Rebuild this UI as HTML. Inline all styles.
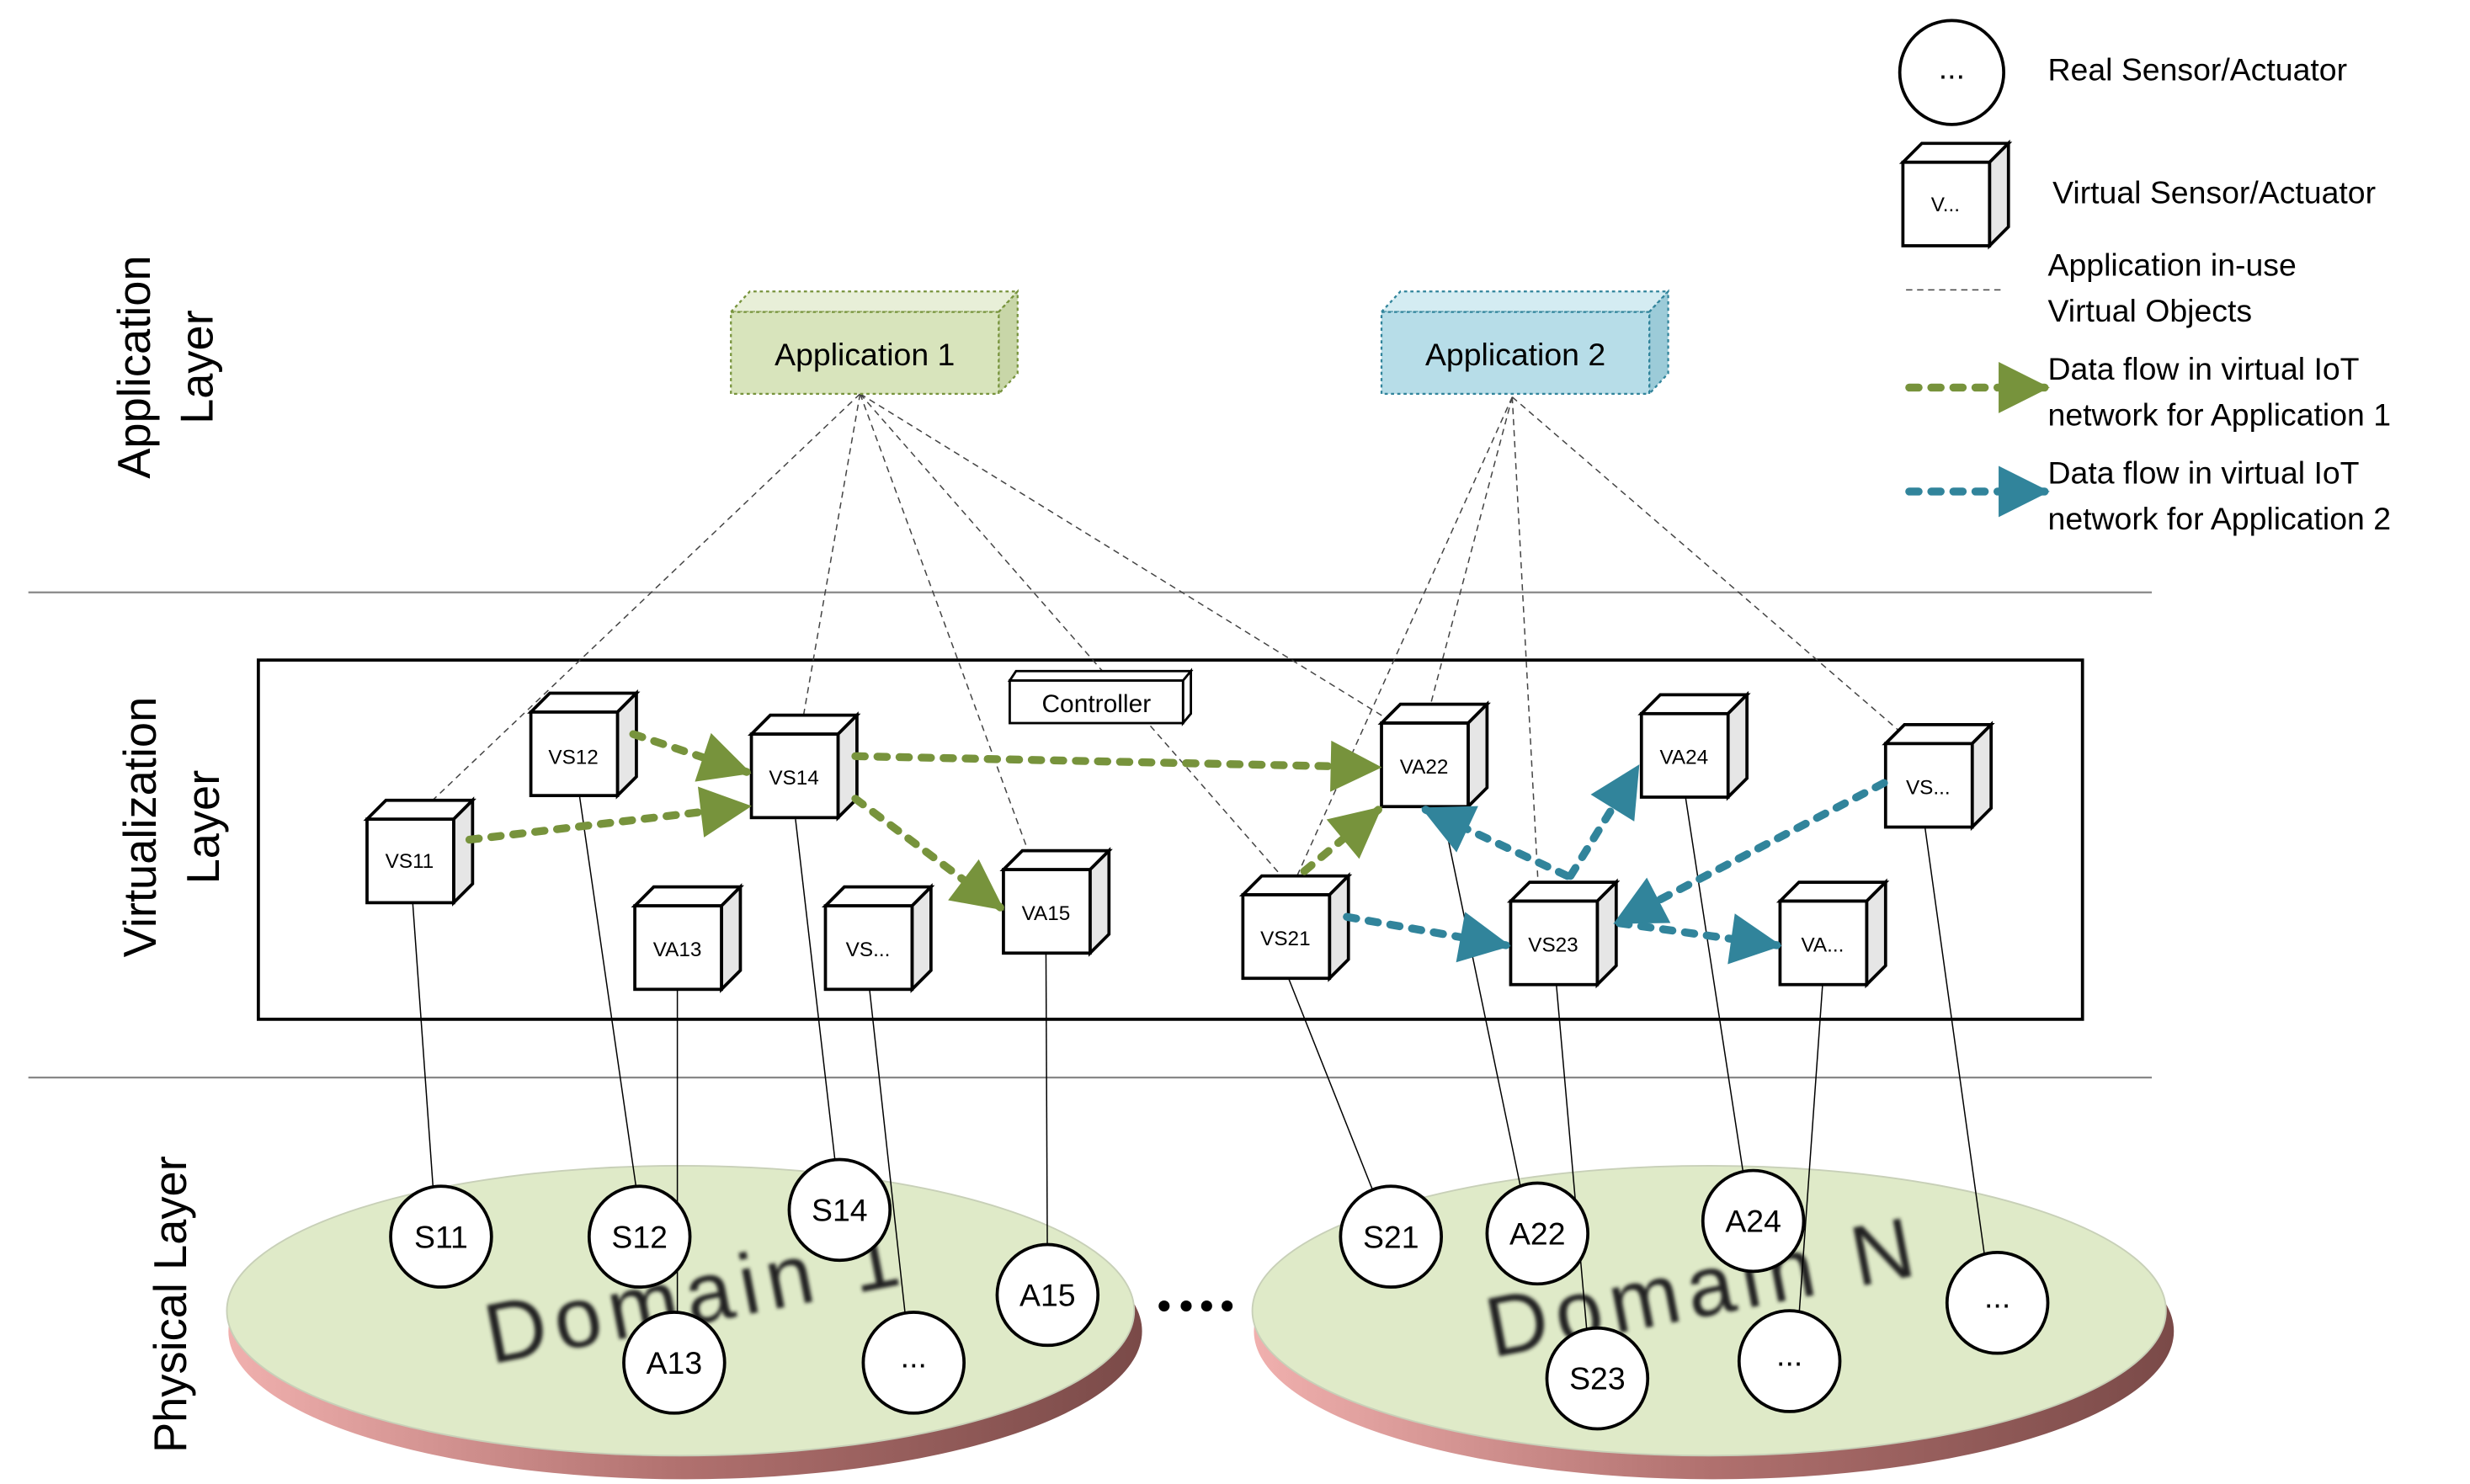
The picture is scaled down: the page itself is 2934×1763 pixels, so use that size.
<!DOCTYPE html>
<html><head><meta charset="utf-8"><style>
html,body{margin:0;padding:0;background:#fff;}
svg{display:block;}
text{font-family:"Liberation Sans",sans-serif;}
</style></head><body>
<svg width="2934" height="1763" viewBox="0 0 1568 942" preserveAspectRatio="none" xmlns="http://www.w3.org/2000/svg">
<defs>
<marker id="mg" viewBox="0 0 10 10" refX="9" refY="5" markerWidth="7" markerHeight="6.5" orient="auto" markerUnits="strokeWidth"><path d="M0,0 L10,5 L0,10 z" fill="#77933c"/></marker>
<marker id="mb" viewBox="0 0 10 10" refX="9" refY="5" markerWidth="7" markerHeight="6.5" orient="auto" markerUnits="strokeWidth"><path d="M0,0 L10,5 L0,10 z" fill="#31849b"/></marker>
<linearGradient id="rim" x1="0" x2="1" y1="0" y2="0"><stop offset="0" stop-color="#f0b0ae"/><stop offset="0.5" stop-color="#b0706e"/><stop offset="1" stop-color="#7a4a48"/></linearGradient>
<filter id="bl"><feGaussianBlur stdDeviation="1.2"/></filter>
</defs>

<line x1="18" y1="376" x2="1366" y2="376" stroke="#888" stroke-width="1.2"/>
<line x1="18" y1="684" x2="1366" y2="684" stroke="#888" stroke-width="1.2"/>
<rect x="164" y="419" width="1158" height="228" fill="none" stroke="#000" stroke-width="2"/>

<text transform="translate(95,233) rotate(-90)" font-size="29" text-anchor="middle">Application</text>
<text transform="translate(135,233) rotate(-90)" font-size="29" text-anchor="middle">Layer</text>
<text transform="translate(99,525) rotate(-90)" font-size="29" text-anchor="middle">Virtualization</text>
<text transform="translate(139,525) rotate(-90)" font-size="29" text-anchor="middle">Layer</text>
<text transform="translate(118,828) rotate(-90)" font-size="29" text-anchor="middle">Physical Layer</text>

<ellipse cx="435" cy="845" rx="290" ry="94" fill="url(#rim)"/>
<ellipse cx="432" cy="832" rx="288" ry="92" fill="#dfeac8" stroke="#c8d0b8" stroke-width="1"/>
<text transform="translate(445,840) rotate(-11)" font-size="54" letter-spacing="5" text-anchor="middle" fill="#222" filter="url(#bl)">Domain 1</text>
<ellipse cx="1088" cy="845" rx="292" ry="94" fill="url(#rim)"/>
<ellipse cx="1085" cy="832" rx="290" ry="92" fill="#dfeac8" stroke="#c8d0b8" stroke-width="1"/>
<text transform="translate(1085,835) rotate(-11)" font-size="54" letter-spacing="5" text-anchor="middle" fill="#222" filter="url(#bl)">Domain N</text>
<g fill="#000"><circle cx="739" cy="829" r="3.5"/><circle cx="753" cy="829" r="3.5"/><circle cx="766" cy="829" r="3.5"/><circle cx="779" cy="829" r="3.5"/></g>

<g stroke="#444" stroke-width="0.8" stroke-dasharray="4 3" fill="none">
<line x1="546" y1="250" x2="262" y2="520"/>
<line x1="546" y1="250" x2="508" y2="466"/>
<line x1="546" y1="250" x2="657" y2="552"/>
<line x1="546" y1="250" x2="824" y2="568"/>
<line x1="546" y1="250" x2="885" y2="459"/>
<line x1="960" y1="252" x2="818" y2="568"/>
<line x1="960" y1="252" x2="905" y2="459"/>
<line x1="960" y1="252" x2="977" y2="572"/>
<line x1="960" y1="252" x2="1215" y2="472"/>
<line x1="1210" y1="184" x2="1272" y2="184"/>
</g>

<g stroke="#000" stroke-width="0.8">
<line x1="262" y1="573" x2="275" y2="755"/>
<line x1="368" y1="506" x2="404" y2="755"/>
<line x1="505" y1="520" x2="530" y2="736"/>
<line x1="430" y1="628" x2="430" y2="865"/>
<line x1="552" y1="628" x2="578" y2="865"/>
<line x1="664" y1="605" x2="665" y2="822"/>
<line x1="818" y1="621" x2="872" y2="757"/>
<line x1="915" y1="512" x2="966" y2="757"/>
<line x1="988" y1="625" x2="1010" y2="875"/>
<line x1="1070" y1="506" x2="1107" y2="747"/>
<line x1="1157" y1="625" x2="1140" y2="864"/>
<line x1="1222" y1="525" x2="1264" y2="827"/>
</g>

<g fill="#fff" stroke="#000" stroke-width="2">
<circle cx="280" cy="785" r="32"/><circle cx="406" cy="785" r="32"/><circle cx="533" cy="768" r="32"/>
<circle cx="428" cy="865" r="32"/><circle cx="580" cy="865" r="32"/><circle cx="665" cy="822" r="32"/>
<circle cx="883" cy="785" r="32"/><circle cx="976" cy="783" r="32"/><circle cx="1113" cy="775" r="32"/>
<circle cx="1014" cy="875" r="32"/><circle cx="1136" cy="864" r="32"/><circle cx="1268" cy="827" r="32"/>
<circle cx="1239" cy="46" r="33"/>
</g>
<g font-size="20" text-anchor="middle">
<text x="280" y="792">S11</text><text x="406" y="792">S12</text><text x="533" y="775">S14</text>
<text x="428" y="872">A13</text><text x="580" y="868">...</text><text x="665" y="829">A15</text>
<text x="883" y="792">S21</text><text x="976" y="790">A22</text><text x="1113" y="782">A24</text>
<text x="1014" y="882">S23</text><text x="1136" y="867">...</text><text x="1268" y="830">...</text>
<text x="1239" y="50">...</text>
</g>

<g stroke-width="1.2" stroke-dasharray="2 2">
<path d="M464,198 L476,185 L646,185 L634,198 z" fill="#e8efd8" stroke="#77933c"/>
<path d="M634,198 L646,185 L646,237 L634,250 z" fill="#c8d6a8" stroke="#77933c"/>
<rect x="464" y="198" width="170" height="52" fill="#d8e4bc" stroke="#77933c"/>
<path d="M877,198 L889,185 L1059,185 L1047,198 z" fill="#d4ecf2" stroke="#31849b"/>
<path d="M1047,198 L1059,185 L1059,237 L1047,250 z" fill="#9ccbd8" stroke="#31849b"/>
<rect x="877" y="198" width="170" height="52" fill="#b7dde8" stroke="#31849b"/>
</g>
<text x="549" y="232" font-size="20" text-anchor="middle">Application 1</text>
<text x="962" y="232" font-size="20" text-anchor="middle">Application 2</text>

<path d="M641,432 L645,426 L756,426 L751,432 z M751,432 L756,426 L756,453 L751,459 z" fill="#fff" stroke="#000" stroke-width="1.5"/>
<rect x="641" y="432" width="110" height="27" fill="#fff" stroke="#000" stroke-width="1.5"/>
<text x="696" y="452" font-size="16" text-anchor="middle">Controller</text>

<g stroke="#000" stroke-width="2">
<g transform="translate(233,520)"><path d="M0,0 L12,-12 L67,-12 L55,0 z" fill="#fff"/><path d="M55,0 L67,-12 L67,41 L55,53 z" fill="#e6e6e6"/><rect width="55" height="53" fill="#fff"/></g>
<g transform="translate(337,452)"><path d="M0,0 L12,-12 L67,-12 L55,0 z" fill="#fff"/><path d="M55,0 L67,-12 L67,41 L55,53 z" fill="#e6e6e6"/><rect width="55" height="53" fill="#fff"/></g>
<g transform="translate(477,466)"><path d="M0,0 L12,-12 L67,-12 L55,0 z" fill="#fff"/><path d="M55,0 L67,-12 L67,41 L55,53 z" fill="#e6e6e6"/><rect width="55" height="53" fill="#fff"/></g>
<g transform="translate(403,575)"><path d="M0,0 L12,-12 L67,-12 L55,0 z" fill="#fff"/><path d="M55,0 L67,-12 L67,41 L55,53 z" fill="#e6e6e6"/><rect width="55" height="53" fill="#fff"/></g>
<g transform="translate(524,575)"><path d="M0,0 L12,-12 L67,-12 L55,0 z" fill="#fff"/><path d="M55,0 L67,-12 L67,41 L55,53 z" fill="#e6e6e6"/><rect width="55" height="53" fill="#fff"/></g>
<g transform="translate(637,552)"><path d="M0,0 L12,-12 L67,-12 L55,0 z" fill="#fff"/><path d="M55,0 L67,-12 L67,41 L55,53 z" fill="#e6e6e6"/><rect width="55" height="53" fill="#fff"/></g>
<g transform="translate(789,568)"><path d="M0,0 L12,-12 L67,-12 L55,0 z" fill="#fff"/><path d="M55,0 L67,-12 L67,41 L55,53 z" fill="#e6e6e6"/><rect width="55" height="53" fill="#fff"/></g>
<g transform="translate(877,459)"><path d="M0,0 L12,-12 L67,-12 L55,0 z" fill="#fff"/><path d="M55,0 L67,-12 L67,41 L55,53 z" fill="#e6e6e6"/><rect width="55" height="53" fill="#fff"/></g>
<g transform="translate(959,572)"><path d="M0,0 L12,-12 L67,-12 L55,0 z" fill="#fff"/><path d="M55,0 L67,-12 L67,41 L55,53 z" fill="#e6e6e6"/><rect width="55" height="53" fill="#fff"/></g>
<g transform="translate(1042,453)"><path d="M0,0 L12,-12 L67,-12 L55,0 z" fill="#fff"/><path d="M55,0 L67,-12 L67,41 L55,53 z" fill="#e6e6e6"/><rect width="55" height="53" fill="#fff"/></g>
<g transform="translate(1130,572)"><path d="M0,0 L12,-12 L67,-12 L55,0 z" fill="#fff"/><path d="M55,0 L67,-12 L67,41 L55,53 z" fill="#e6e6e6"/><rect width="55" height="53" fill="#fff"/></g>
<g transform="translate(1197,472)"><path d="M0,0 L12,-12 L67,-12 L55,0 z" fill="#fff"/><path d="M55,0 L67,-12 L67,41 L55,53 z" fill="#e6e6e6"/><rect width="55" height="53" fill="#fff"/></g>
<g transform="translate(1208,103)"><path d="M0,0 L12,-12 L67,-12 L55,0 z" fill="#fff"/><path d="M55,0 L67,-12 L67,41 L55,53 z" fill="#e6e6e6"/><rect width="55" height="53" fill="#fff"/></g>
</g>
<g font-size="13" text-anchor="middle">
<text x="260" y="551">VS11</text><text x="364" y="485">VS12</text><text x="504" y="498">VS14</text>
<text x="430" y="607">VA13</text><text x="551" y="607">VS...</text><text x="664" y="584">VA15</text>
<text x="816" y="600">VS21</text><text x="904" y="491">VA22</text><text x="986" y="604">VS23</text>
<text x="1069" y="485">VA24</text><text x="1157" y="604">VA...</text><text x="1224" y="504">VS...</text>
<text x="1235" y="134">V...</text>
</g>

<g stroke="#77933c" stroke-width="5" stroke-dasharray="6 8" stroke-linecap="round" fill="none">
<line x1="402" y1="466" x2="474" y2="490" marker-end="url(#mg)"/>
<line x1="298" y1="533" x2="474" y2="512" marker-end="url(#mg)"/>
<line x1="543" y1="480" x2="874" y2="487" marker-end="url(#mg)"/>
<line x1="543" y1="507" x2="635" y2="576" marker-end="url(#mg)"/>
<line x1="828" y1="553" x2="875" y2="514" marker-end="url(#mg)"/>
<line x1="1212" y1="246" x2="1298" y2="246" marker-end="url(#mg)"/>
</g>
<g stroke="#31849b" stroke-width="5" stroke-dasharray="6 8" stroke-linecap="round" fill="none">
<line x1="995" y1="556" x2="905" y2="514" marker-end="url(#mb)"/>
<line x1="997" y1="556" x2="1039" y2="488" marker-end="url(#mb)"/>
<line x1="1196" y1="497" x2="1027" y2="585" marker-end="url(#mb)"/>
<line x1="855" y1="582" x2="956" y2="600" marker-end="url(#mb)"/>
<line x1="1028" y1="586" x2="1128" y2="600" marker-end="url(#mb)"/>
<line x1="1212" y1="312" x2="1298" y2="312" marker-end="url(#mb)"/>
</g>

<g font-size="20">
<text x="1300" y="51">Real Sensor/Actuator</text>
<text x="1303" y="129">Virtual Sensor/Actuator</text>
<text x="1300" y="175">Application in-use</text>
<text x="1300" y="204">Virtual Objects</text>
<text x="1300" y="241">Data flow in virtual IoT</text>
<text x="1300" y="270">network for Application 1</text>
<text x="1300" y="307">Data flow in virtual IoT</text>
<text x="1300" y="336">network for Application 2</text>
</g>
</svg>
</body></html>
